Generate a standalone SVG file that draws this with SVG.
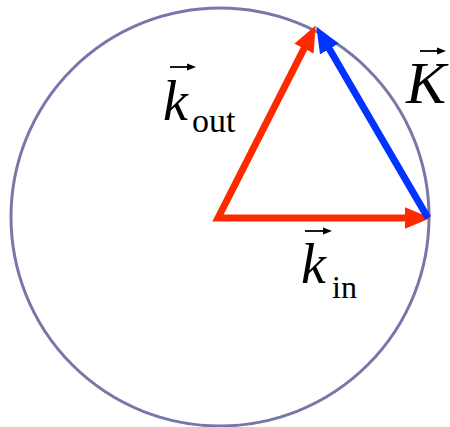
<svg xmlns="http://www.w3.org/2000/svg" width="450" height="427" viewBox="0 0 450 427">
<defs>
<style>
.lbl{font-family:"Liberation Serif","Times New Roman",serif;fill:#000}
.it{font-style:italic}
.vec{stroke:#000;stroke-width:1.8;fill:none}
.vh{fill:#000;stroke:none}
</style>
<marker id="hr" markerUnits="userSpaceOnUse" markerWidth="26" markerHeight="22" viewBox="0 0 24 20" refX="4" refY="10" orient="auto-start-reverse"><path d="M0,0 L24,10 L0,20 z" fill="#ff2a00"/></marker>
<marker id="hb" markerUnits="userSpaceOnUse" markerWidth="26" markerHeight="22" viewBox="0 0 24 20" refX="4" refY="10" orient="auto"><path d="M0,0 L24,10 L0,20 z" fill="#0033ff"/></marker>
</defs>
<g id="circle"><circle cx="220" cy="217" r="209" fill="none" stroke="#7777aa" stroke-width="3"/></g>
<g id="connectors">
<path id="k-vectors" d="M305.9,44.8 L218,218 L409,218" fill="none" stroke="#ff2a00" stroke-width="7" stroke-linejoin="miter" marker-start="url(#hr)" marker-end="url(#hr)"/>
<path id="K-vector" d="M428,218 L327.2,45.2" fill="none" stroke="#0033ff" stroke-width="7" marker-end="url(#hb)"/>
</g>
<g id="label-kout">
<text class="lbl it" x="163" y="120" font-size="56">k</text>
<text class="lbl" x="192" y="132" font-size="34">out</text>
<path class="vec" d="M170,67 H188"/><path class="vh" d="M196,67 L187,63.5 L187,70.5 z"/>
</g>
<g id="label-K">
<text class="lbl it" x="406" y="103" font-size="60">K</text>
<path class="vec" d="M420,51 H438"/><path class="vh" d="M446,51 L437,47.5 L437,54.5 z"/>
</g>
<g id="label-kin">
<text class="lbl it" x="301" y="283" font-size="56">k</text>
<text class="lbl" x="332" y="298" font-size="32">in</text>
<path class="vec" d="M305,231 H324"/><path class="vh" d="M332,231 L323,227.5 L323,234.5 z"/>
</g>
</svg>
